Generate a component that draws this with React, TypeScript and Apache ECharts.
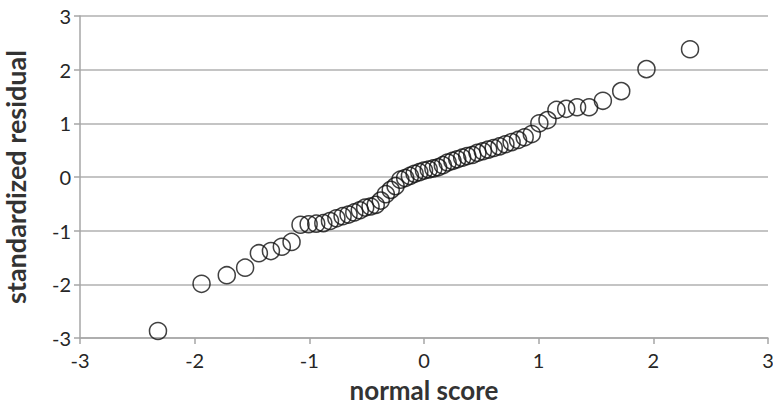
import React, { useEffect, useRef } from "react";
import * as echarts from "echarts";

const normalScores: number[] = [
  -2.32, -1.94, -1.72, -1.56, -1.44, -1.335, -1.24, -1.155, -1.077, -1.006,
  -0.94, -0.878, -0.82, -0.764, -0.71, -0.658, -0.608, -0.56, -0.513, -0.466,
  -0.421, -0.377, -0.333, -0.29, -0.248, -0.206, -0.164, -0.123, -0.082, -0.041,
  0, 0.041, 0.082, 0.123, 0.164, 0.206, 0.248, 0.29, 0.333, 0.377,
  0.421, 0.466, 0.513, 0.56, 0.608, 0.658, 0.71, 0.764, 0.82, 0.878,
  0.94, 1.006, 1.077, 1.155, 1.24, 1.335, 1.44, 1.56, 1.72, 1.94, 2.32,
];

const residuals: number[] = [
  -2.87, -1.99, -1.83, -1.69, -1.42, -1.38, -1.3, -1.21, -0.89, -0.88,
  -0.87, -0.86, -0.82, -0.77, -0.73, -0.7, -0.66, -0.62, -0.57, -0.55,
  -0.52, -0.44, -0.32, -0.24, -0.17, -0.05, -0.02, 0.02, 0.06, 0.09,
  0.12, 0.14, 0.16, 0.18, 0.22, 0.27, 0.3, 0.33, 0.36, 0.39,
  0.41, 0.45, 0.48, 0.51, 0.54, 0.57, 0.61, 0.65, 0.69, 0.74,
  0.8, 1.0, 1.06, 1.25, 1.27, 1.3, 1.3, 1.42, 1.6, 2.01, 2.38,
];

const axisTicks: number[] = [-3, -2, -1, 0, 1, 2, 3];

export default function App() {
  const ref = useRef<HTMLDivElement>(null);
  useEffect(() => {
    if (!ref.current) return;
    const chart = echarts.init(ref.current, null, { renderer: "svg" });
    const font = "Lato, 'Noto Sans', sans-serif";
    chart.setOption({
      animation: false,
      backgroundColor: "#ffffff",
      grid: { left: 80, right: 5, top: 16, bottom: 68, containLabel: false, outerBoundsMode: "none" },
      xAxis: {
        type: "value",
        min: axisTicks[0],
        max: axisTicks[axisTicks.length - 1],
        interval: 1,
        name: "normal score",
        nameLocation: "middle",
        nameGap: 39,
        nameTextStyle: { fontFamily: font, fontSize: 26, fontWeight: "bold", color: "#333333" },
        axisLine: { onZero: false, lineStyle: { color: "#a6a6a6", width: 1.5 } },
        axisTick: { show: true, length: 6, lineStyle: { color: "#a6a6a6", width: 1.5 } },
        axisLabel: { fontFamily: font, fontSize: 20, color: "#262626", margin: 12 },
        splitLine: { show: false },
      },
      yAxis: {
        type: "value",
        min: axisTicks[0],
        max: axisTicks[axisTicks.length - 1],
        interval: 1,
        name: "standardized residual",
        nameLocation: "middle",
        nameGap: 51,
        nameRotate: 90,
        nameTextStyle: { fontFamily: font, fontSize: 27, fontWeight: "bold", color: "#333333" },
        axisLine: { show: true, onZero: false, lineStyle: { color: "#a6a6a6", width: 1.5 } },
        axisTick: { show: true, length: 6, lineStyle: { color: "#a6a6a6", width: 1.5 } },
        axisLabel: { fontFamily: font, fontSize: 20, color: "#262626", margin: 9 },
        splitLine: { show: true, lineStyle: { color: "#b0b0b0", width: 1.5 } },
      },
      series: [
        {
          type: "scatter",
          data: normalScores.map((x, i) => [x, residuals[i]]),
          symbol: "circle",
          symbolSize: 17,
          itemStyle: { color: "rgba(0,0,0,0)", borderColor: "#111", borderWidth: 1.5 },
        },
      ],
    });
    return () => chart.dispose();
  }, []);
  return <div ref={ref} style={{ width: 773, height: 406, position: "absolute", left: 0, top: 0 }} />;
}
